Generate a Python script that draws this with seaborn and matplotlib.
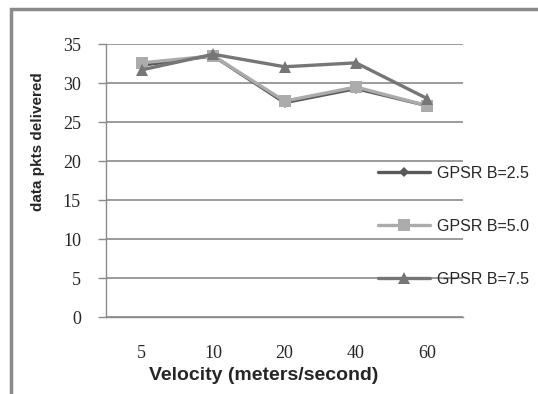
import matplotlib
matplotlib.use("Agg")
import matplotlib.pyplot as plt
import seaborn as sns
import pandas as pd
from matplotlib.patches import Rectangle

velocity = ["5", "10", "20", "40", "60"]
b25 = [32.3, 33.5, 27.5, 29.3, 27.1]
b50 = [32.6, 33.5, 27.7, 29.5, 27.1]
b75 = [31.7, 33.7, 32.1, 32.6, 28.0]
labels = ["GPSR B=2.5", "GPSR B=5.0", "GPSR B=7.5"]
yticks = [0, 5, 10, 15, 20, 25, 30, 35]

sns.set_theme(style="white")
plt.rcParams['font.family'] = ['Liberation Sans', 'DejaVu Sans']

fig = plt.figure(figsize=(5.38, 3.94), dpi=100)
ax = fig.add_axes([0.197, 0.195, 0.664, 0.693])

pos = list(range(len(velocity)))
series = [
    (b25, labels[0], "#595959", "D", 5),
    (b50, labels[1], "#ababab", "s", 9),
    (b75, labels[2], "#767676", "^", 9),
]
for vals, lab, col, mk, ms in series:
    df = pd.DataFrame({"x": pos, "y": vals})
    sns.lineplot(data=df, x="x", y="y", ax=ax, color=col, marker=mk,
                 markersize=ms, markeredgewidth=0, linewidth=2.4, label=lab)

ax.set_xlim(-0.5, 4.5)
ax.set_ylim(0, 35)
ax.set_yticks(yticks)
ax.set_yticklabels([str(v) for v in yticks], family="Liberation Serif", fontsize=13)
ax.set_xticks(pos)
ax.set_xticklabels(velocity, family="Liberation Serif", fontsize=13)
ax.grid(axis="y", color="#8a8a8a", linewidth=1.2)
ax.set_axisbelow(True)
for s in ["top", "right"]:
    ax.spines[s].set_visible(False)
for s in ["left", "bottom"]:
    ax.spines[s].set_color("#8a8a8a")
    ax.spines[s].set_linewidth(1.0)
ax.tick_params(axis="y", length=6, color="#8a8a8a", width=1.0, pad=12, left=True)
ax.tick_params(axis="x", length=0, pad=20)
ax.set_xlabel("")
ax.set_ylabel("")
fig.text(264/538, 1 - 375/394, "Velocity (meters/second)", fontsize=14,
         fontweight="bold", ha="center", va="center")
fig.text(38/538, 1 - 142/394, "data pkts delivered", fontsize=11,
         fontweight="bold", ha="center", va="center", rotation=90)

h, l = ax.get_legend_handles_labels()
order = [l.index(x) for x in labels]
ax.legend([h[i] for i in order], [l[i] for i in order],
          loc="upper left", bbox_to_anchor=(0.703, 0.579), bbox_transform=fig.transFigure,
          frameon=False, fontsize=11.5, labelspacing=2.37, handlelength=3.25,
          handletextpad=0.44, borderaxespad=0, borderpad=0)

fig.patches.append(Rectangle((11/538, -0.1), 1.2, 1 - 9/394 + 0.1, transform=fig.transFigure,
                             fill=False, edgecolor="#8a8a8a", linewidth=2.5))

fig.savefig("out.png", dpi=100)
